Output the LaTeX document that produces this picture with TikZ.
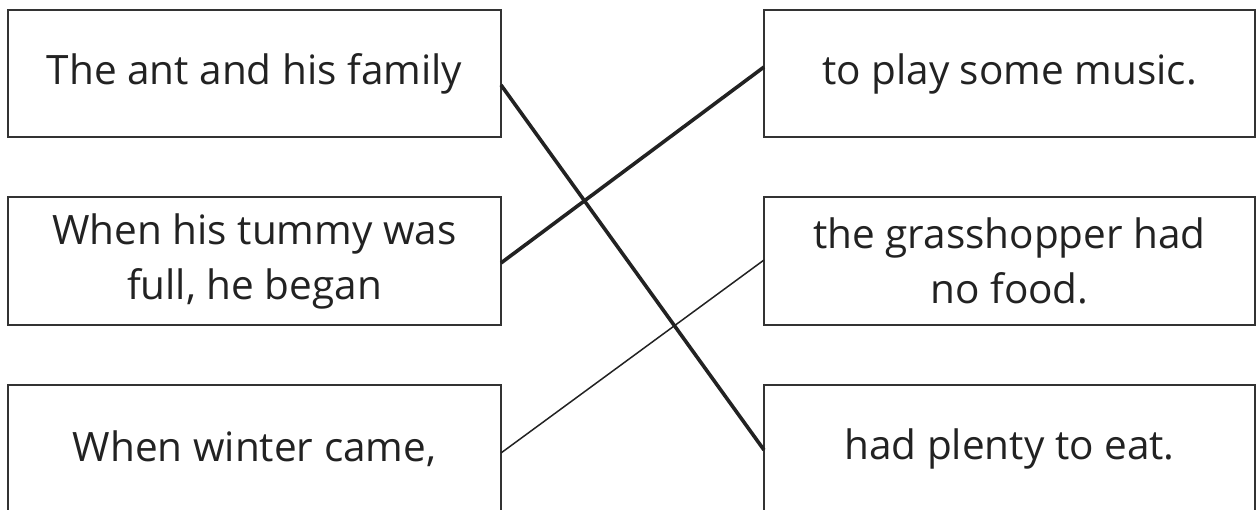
\documentclass[tikz,border=0pt]{standalone}
\usepackage{fontspec}
\setmainfont{Open Sans}
\definecolor{ink}{HTML}{222222}
\definecolor{frame}{HTML}{333333}
\begin{document}
\begin{tikzpicture}[x=1pt,y=1pt,
  card/.style={draw=frame, line width=2pt, rectangle, outer sep=0pt, inner sep=0pt,
    minimum height=127pt, align=center, text=ink,
    font=\fontsize{40.5}{55}\selectfont},
  lcard/.style={card, minimum width=493pt},
  rcard/.style={card, minimum width=491pt},
  thickline/.style={draw=ink, line width=3.6pt},
  thinline/.style={draw=ink, line width=1.5pt}]
\useasboundingbox (0,0) rectangle (1257,509);
\node[lcard] (a1) at (254.5,435.5) {The ant and his family};
\node[lcard, minimum height=128pt] (a2) at (254.5,248) {When his tummy was\\full, he began};
\node[lcard] (a3) at (254.5,60.5) {When winter came,};
\node[rcard] (b1) at (1009.5,435.5) {to play some music.};
\node[rcard, minimum height=128pt] (b2) at (1009.5,248) {the grasshopper had\\no food.};
\node[rcard] (b3) at (1009.5,60.5) {had plenty to eat.};
\draw[thickline] ([yshift=-11.5pt]a1.east) -- ([yshift=-1.5pt]b3.west);
\draw[thickline] ([yshift=-2pt]a2.east) -- ([yshift=6.5pt]b1.west);
\draw[thinline] ([yshift=-4.5pt]a3.east) -- ([yshift=1pt]b2.west);
\end{tikzpicture}
\end{document}
